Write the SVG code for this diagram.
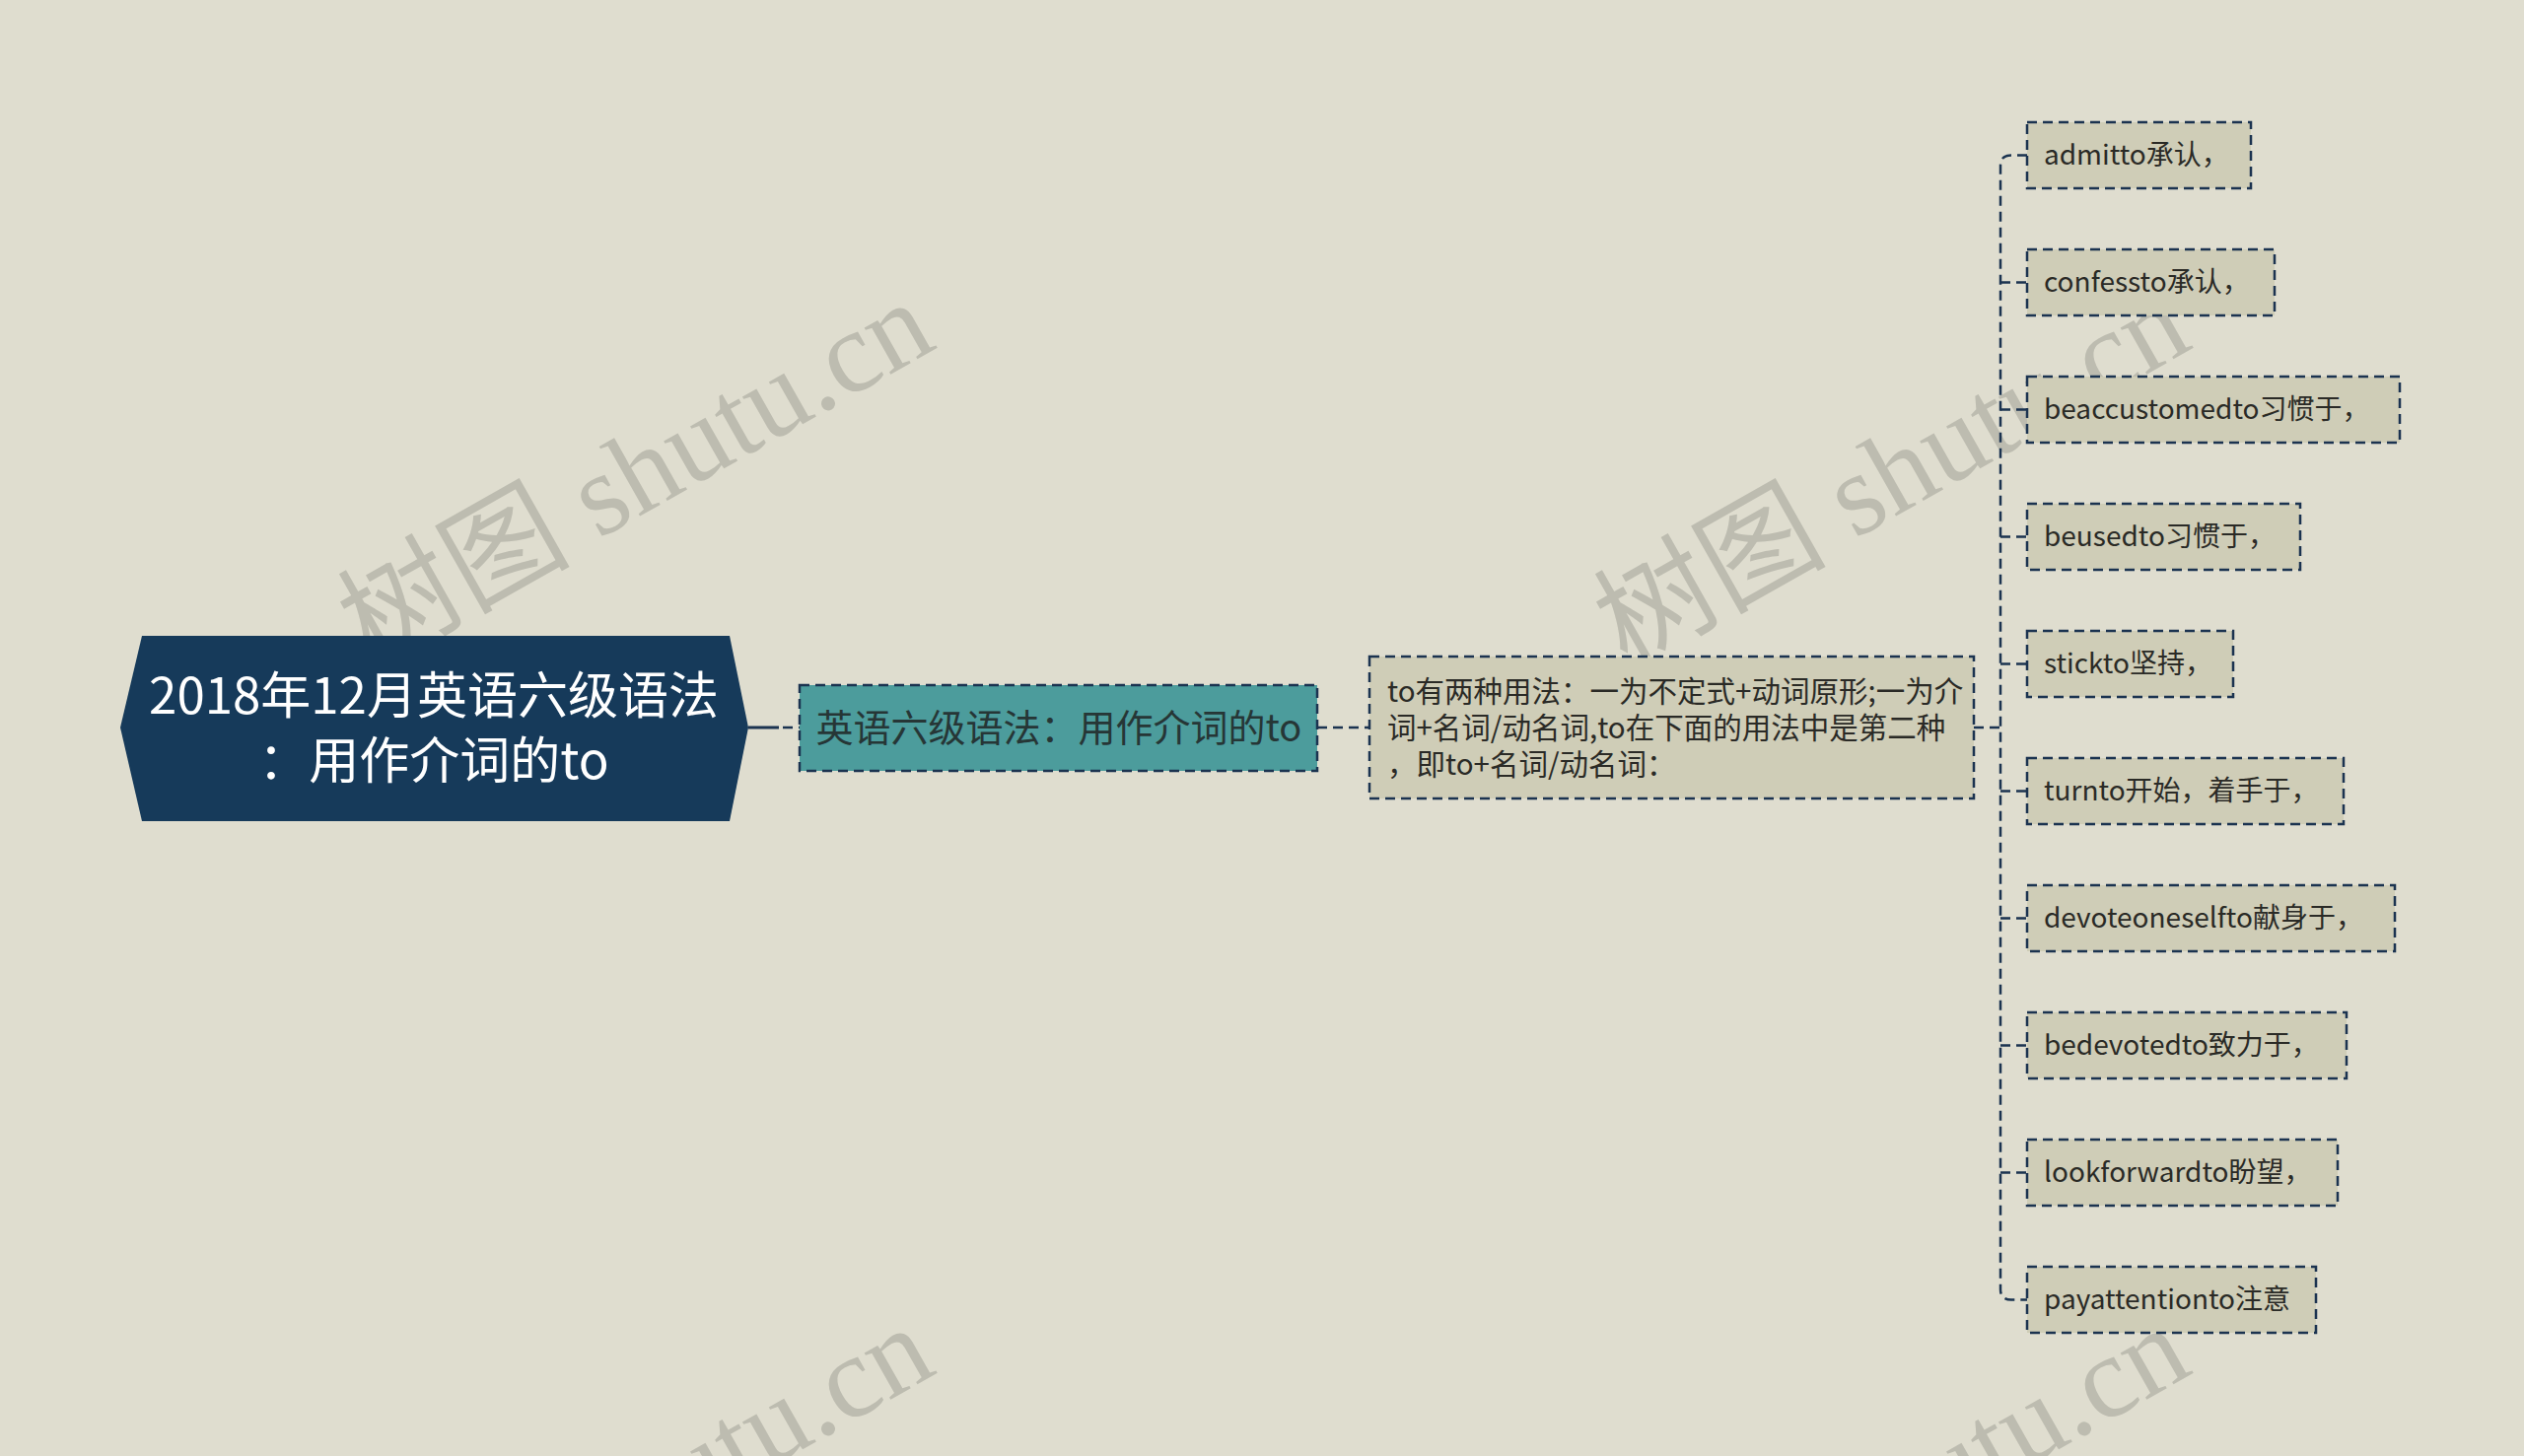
<svg xmlns="http://www.w3.org/2000/svg" width="2560" height="1477" viewBox="0 0 2560 1477">
<style>
.bg{fill:#dfddcf}
.wm{font-family:"Liberation Serif","Noto Sans CJK SC",serif;font-size:118px;fill:#bdbcb0}
.box{stroke:#1b3350;stroke-width:2.5;stroke-dasharray:10 6}
.l1{fill:#4c9c9c}
.l2{fill:#cfcdb7}
.con{fill:none;stroke:#1b3350;stroke-width:2.5;stroke-dasharray:10 6}
.t{font-family:"Noto Sans CJK SC","Noto Sans",sans-serif}
.root{font-size:51px;fill:#ffffff}
.t1{font-size:38px;fill:#263636}
.t2{font-size:29.5px;fill:#2a2a26}
.t3{font-size:28px;fill:#2a2a26}
</style>
<rect class="bg" x="0" y="0" width="2560" height="1477"/>
<g id="watermarks">
<text class="wm" x="376" y="678" transform="rotate(-29.5 376 678)">树图 shutu.cn</text>
<text class="wm" x="1650" y="678" transform="rotate(-29.5 1650 678)">树图 shutu.cn</text>
<text class="wm" x="376" y="1718" transform="rotate(-29.5 376 1718)">树图 shutu.cn</text>
<text class="wm" x="1650" y="1718" transform="rotate(-29.5 1650 1718)">树图 shutu.cn</text>
</g>
<g id="connectors">
<path d="M759 738 H790" fill="none" stroke="#1b3350" stroke-width="3"/>
<path class="con" d="M794 738 H811"/>
<path class="con" d="M1336 738 H1389"/>
<path class="con" d="M2002 738 H2029"/>
<path class="con" d="M2056 157.5 H2040 Q2029 157.5 2029 168 V1308 Q2029 1318.5 2040 1318.5 H2056"/>
<path class="con" d="M2029 286.5 H2056 M2029 415.5 H2056 M2029 544.5 H2056 M2029 673.5 H2056 M2029 802.5 H2056 M2029 931.5 H2056 M2029 1060.5 H2056 M2029 1189.5 H2056"/>
</g>
<g id="root">
<polygon points="144,645 740,645 759,738 740,833 144,833 122,738" fill="#163a5a"/>
<text class="t root" x="440" y="724" text-anchor="middle">2018年12月英语六级语法</text>
<text class="t root" x="440" y="790" text-anchor="middle">：用作介词的to</text>
</g>
<g id="n1">
<rect class="box l1" x="811" y="695" width="525" height="87"/>
<text class="t t1" x="1074" y="752" text-anchor="middle">英语六级语法：用作介词的to</text>
</g>
<g id="n2">
<rect class="box l2" x="1389" y="666" width="613" height="144"/>
<text class="t t2" x="1407" y="712">to有两种用法：一为不定式+动词原形;一为介</text>
<text class="t t2" x="1407" y="749">词+名词/动名词,to在下面的用法中是第二种</text>
<text class="t t2" x="1407" y="786">，即to+名词/动名词：</text>
</g>
<g id="leaf1"><rect class="box l2" x="2056" y="124" width="227" height="67"/><text class="t t3" x="2073" y="167">admitto承认，</text></g>
<g id="leaf2"><rect class="box l2" x="2056" y="253" width="251" height="67"/><text class="t t3" x="2073" y="296">confessto承认，</text></g>
<g id="leaf3"><rect class="box l2" x="2056" y="382" width="378" height="67"/><text class="t t3" x="2073" y="425">beaccustomedto习惯于，</text></g>
<g id="leaf4"><rect class="box l2" x="2056" y="511" width="277" height="67"/><text class="t t3" x="2073" y="554">beusedto习惯于，</text></g>
<g id="leaf5"><rect class="box l2" x="2056" y="640" width="209" height="67"/><text class="t t3" x="2073" y="683">stickto坚持，</text></g>
<g id="leaf6"><rect class="box l2" x="2056" y="769" width="321" height="67"/><text class="t t3" x="2073" y="812">turnto开始，着手于，</text></g>
<g id="leaf7"><rect class="box l2" x="2056" y="898" width="373" height="67"/><text class="t t3" x="2073" y="941">devoteoneselfto献身于，</text></g>
<g id="leaf8"><rect class="box l2" x="2056" y="1027" width="324" height="67"/><text class="t t3" x="2073" y="1070">bedevotedto致力于，</text></g>
<g id="leaf9"><rect class="box l2" x="2056" y="1156" width="315" height="67"/><text class="t t3" x="2073" y="1199">lookforwardto盼望，</text></g>
<g id="leaf10"><rect class="box l2" x="2056" y="1285" width="293" height="67"/><text class="t t3" x="2073" y="1328">payattentionto注意</text></g>
</svg>
